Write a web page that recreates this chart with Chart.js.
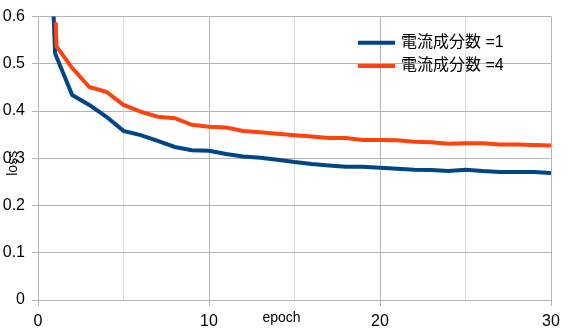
<!DOCTYPE html>
<html>
<head>
<meta charset="utf-8">
<script src="https://cdn.jsdelivr.net/npm/chart.js@4/dist/chart.umd.min.js"></script>
<style>
html,body{margin:0;padding:0;background:#fff;}
#wrap{width:568px;height:332px;position:relative;}
</style>
</head>
<body>
<div id="wrap"><canvas id="c"></canvas></div>
<script>
// ---- data ----
const seriesNames = ['電流成分数 =1', '電流成分数 =4'];
const xTitle = 'epoch';
const yTitle = 'loss';
// x positions (epochs); first entries are the steep lead-in at the start of training
const epochsA = [0.85, 1, 2, 3, 4, 5, 6, 7, 8, 9, 10, 11, 12, 13, 14, 15, 16, 17, 18, 19, 20, 21, 22, 23, 24, 25, 26, 27, 28, 29, 30];
const lossA   = [0.66, 0.522, 0.434, 0.413, 0.388, 0.358, 0.349, 0.337, 0.324, 0.317, 0.316, 0.309, 0.304, 0.301, 0.297, 0.292, 0.288, 0.285, 0.282, 0.282, 0.280, 0.278, 0.276, 0.275, 0.273, 0.276, 0.273, 0.271, 0.271, 0.271, 0.269];
const epochsB = [1.04, 1.08, 2, 3, 4, 5, 6, 7, 8, 9, 10, 11, 12, 13, 14, 15, 16, 17, 18, 19, 20, 21, 22, 23, 24, 25, 26, 27, 28, 29, 30];
const lossB   = [0.588, 0.537, 0.491, 0.451, 0.441, 0.413, 0.399, 0.388, 0.385, 0.371, 0.367, 0.365, 0.358, 0.355, 0.352, 0.349, 0.346, 0.343, 0.343, 0.339, 0.339, 0.338, 0.335, 0.334, 0.331, 0.332, 0.332, 0.329, 0.329, 0.328, 0.327];
const xMin = 0, xMax = 30, xStep = 5, xLabelEvery = 10;
const yMin = 0, yMax = 0.6, yStep = 0.1;

const colors = ['#004586', '#ff420e'];
const FONT = '"Liberation Sans", "Noto Sans CJK JP", Arial, sans-serif';

const toPts = (xs, ys) => xs.map((x, i) => ({x: x, y: ys[i]}));

const overlay = {
  id: 'overlay',
  afterDraw(chart) {
    const ctx = chart.ctx;
    const a = chart.chartArea;
    ctx.save();
    ctx.fillStyle = '#000';
    // y title
    ctx.font = '14px ' + FONT;
    ctx.textAlign = 'center';
    ctx.textBaseline = 'middle';
    ctx.save();
    ctx.translate(a.left - 24.5, (a.top + a.bottom) / 2 + 5);
    ctx.rotate(-Math.PI / 2);
    ctx.fillText(yTitle, 0, 0);
    ctx.restore();
    // x title
    ctx.font = '14px ' + FONT;
    ctx.fillText(xTitle, (a.left + a.right) / 2 - 13, a.bottom + 18);
    // legend
    chart.data.datasets.forEach((ds, i) => {
      const y = 42.7 + i * 23.3;
      ctx.strokeStyle = ds.borderColor;
      ctx.lineWidth = 4;
      ctx.beginPath();
      ctx.moveTo(358, y);
      ctx.lineTo(395, y);
      ctx.stroke();
      ctx.font = '16px ' + FONT;
      ctx.textAlign = 'left';
      ctx.fillStyle = '#000';
      ctx.fillText(ds.label, 401, y);
    });
    ctx.restore();
  }
};

new Chart(document.getElementById('c'), {
  type: 'line',
  data: {
    datasets: [
      {label: seriesNames[0], data: toPts(epochsA, lossA), borderColor: colors[0], backgroundColor: colors[0], borderWidth: 4, pointRadius: 0, tension: 0, clip: 0, order: 2},
      {label: seriesNames[1], data: toPts(epochsB, lossB), borderColor: colors[1], backgroundColor: colors[1], borderWidth: 4, pointRadius: 0, tension: 0, clip: 0, order: 1}
    ]
  },
  options: {
    responsive: true,
    maintainAspectRatio: false,
    animation: false,
    devicePixelRatio: 1,
    layout: {padding: {left: 0, top: 14, right: 17, bottom: 0}},
    plugins: {legend: {display: false}, tooltip: {enabled: false}},
    scales: {
      x: {
        type: 'linear', min: xMin, max: xMax,
        afterFit(s) { s.height = 32; },
        ticks: {
          stepSize: xStep, autoSkip: false, maxRotation: 0, padding: 6,
          color: '#000', font: {family: FONT, size: 16},
          callback: v => (v % xLabelEvery === 0 ? String(v) : '')
        },
        grid: {
          color: c => (c.tick && c.tick.value % xLabelEvery === 0 ? '#b3b3b3' : '#dddddd'),
          tickColor: c => (c.tick && c.tick.value % xLabelEvery === 0 ? '#b3b3b3' : 'rgba(0,0,0,0)'),
          tickLength: 6, lineWidth: 1
        },
        border: {color: '#b3b3b3'}
      },
      y: {
        type: 'linear', min: yMin, max: yMax,
        afterFit(s) { s.width = 38; },
        ticks: {
          stepSize: yStep, padding: 7,
          color: '#000', font: {family: FONT, size: 16}
        },
        grid: {color: '#b3b3b3', tickColor: '#b3b3b3', tickLength: 6, lineWidth: 1},
        border: {color: '#b3b3b3'}
      }
    }
  },
  plugins: [overlay]
});
</script>
</body>
</html>
